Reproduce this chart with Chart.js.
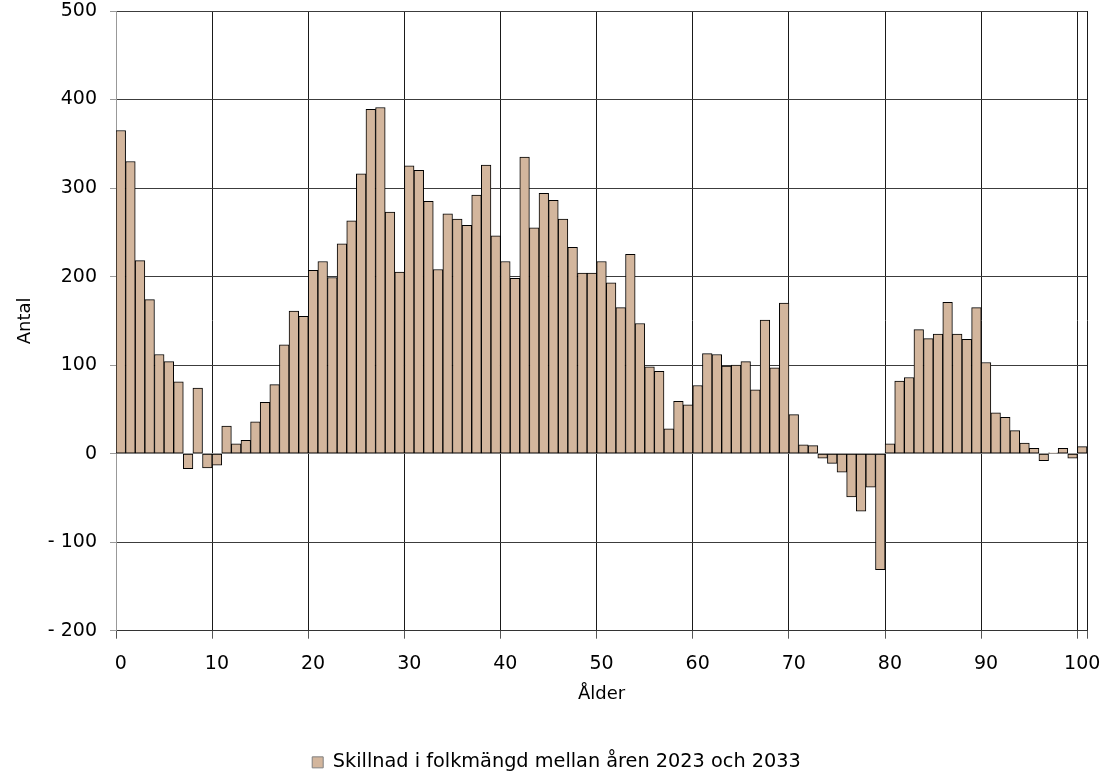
<!DOCTYPE html>
<html>
<head>
<meta charset="utf-8">
<script src="https://cdn.jsdelivr.net/npm/chart.js@4/dist/chart.umd.min.js"></script>
<style>
  html, body { margin: 0; padding: 0; background: #fff; }
  #wrap { width: 1115px; height: 778px; }
</style>
</head>
<body>
<div id="wrap"><canvas id="chart"></canvas></div>
<script>
// ages 0..100
const ages = Array.from({ length: 101 }, (_, i) => String(i));

// change in population 2023 -> 2033 per age
const diff = [
    365, 330, 218, 174, 112, 104, 81, -17, 74, -16,
    -13, 31, 11, 15, 36, 58, 78, 123, 161, 155,
    207, 217, 199, 237, 263, 316, 389, 391, 273, 205,
    325, 320, 285, 208, 271, 265, 258, 292, 326, 246,
    217, 198, 335, 255, 294, 286, 265, 233, 204, 204,
    217, 193, 165, 225, 147, 98, 93, 28, 59, 55,
    77, 113, 112, 99, 100, 104, 72, 151, 97, 170,
    44, 10, 9, -5, -11, -21, -49, -65, -38, -131,
    11, 82, 86, 140, 130, 135, 171, 135, 129, 165,
    103, 46, 41, 26, 12, 6, -8, 1, 6, -5,
    8
];

const yTicks = [-200, -100, 0, 100, 200, 300, 400, 500];

const seriesLabel = 'Skillnad i folkmängd mellan åren 2023 och 2033';
const barFill = '#d3b69d';
const fontFamily = '"DejaVu Sans", sans-serif';

// nudge the legend a bit to the right, like the original
const legendShift = {
    id: 'legendShift',
    afterLayout: (chart) => {
        if (chart.legend) {
            chart.legend.left += 13;
            chart.legend.right += 13;
        }
    }
};

const ctx = document.getElementById('chart').getContext('2d');
new Chart(ctx, {
    type: 'bar',
    data: {
        labels: ages,
        datasets: [{
            label: seriesLabel,
            data: diff,
            backgroundColor: barFill,
            borderColor: '#000',
            borderWidth: 1,
            borderSkipped: false,
            barPercentage: 1,
            categoryPercentage: 1
        }]
    },
    plugins: [legendShift],
    options: {
        responsive: true,
        maintainAspectRatio: false,
        animation: false,
        layout: { padding: { top: 11, right: 28, bottom: -4, left: 0 } },
        plugins: {
            tooltip: { enabled: false },
            legend: {
                position: 'bottom',
                labels: {
                    color: '#000',
                    font: { family: fontFamily, size: 19.3 },
                    boxWidth: 11,
                    boxHeight: 11,
                    padding: 38,
                    generateLabels: (chart) => {
                        const items = Chart.defaults.plugins.legend.labels.generateLabels(chart);
                        items.forEach(it => { it.strokeStyle = '#808080'; it.lineWidth = 1; });
                        return items;
                    }
                }
            }
        },
        scales: {
            x: {
                offset: true,
                afterFit: (s) => { s.height = 84; },
                grid: {
                    offset: true,
                    drawTicks: true,
                    tickLength: 8,
                    color: (c) => (c.index === undefined || c.index % 10 === 0) ? '#1a1a1a' : 'rgba(0,0,0,0)',
                    tickColor: (c) => (c.index === undefined || c.index % 10 === 0) ? '#555' : 'rgba(0,0,0,0)'
                },
                border: { display: true, color: '#333' },
                ticks: {
                    autoSkip: false,
                    maxRotation: 0,
                    padding: 14,
                    color: '#000',
                    font: { family: fontFamily, size: 19 },
                    callback: (v, i) => (i % 10 === 0 ? ages[i] : '')
                },
                title: {
                    display: true,
                    text: 'Ålder',
                    color: '#000',
                    font: { family: fontFamily, size: 18 },
                    padding: { top: 0, bottom: 10 }
                }
            },
            y: {
                min: -200,
                max: 500,
                afterFit: (s) => {
                    s.width = 116;
                    s.paddingTop = 0;
                    s.paddingBottom = 0;
                },
                afterBuildTicks: (s) => { s.ticks = yTicks.map(v => ({ value: v })); },
                grid: {
                    color: (c) => (c.tick && c.tick.value === 0) ? '#a6a6a6' : '#3c3c3c',
                    tickColor: '#999',
                    tickLength: 6
                },
                border: { display: true, color: '#999' },
                ticks: {
                    padding: 13,
                    color: '#000',
                    font: { family: fontFamily, size: 19 },
                    callback: (v) => (v < 0 ? '- ' + Math.abs(v) : String(v))
                },
                title: {
                    display: true,
                    text: 'Antal',
                    color: '#000',
                    font: { family: fontFamily, size: 18 },
                    padding: { top: 15, bottom: 0 }
                }
            }
        }
    }
});
</script>
</body>
</html>
